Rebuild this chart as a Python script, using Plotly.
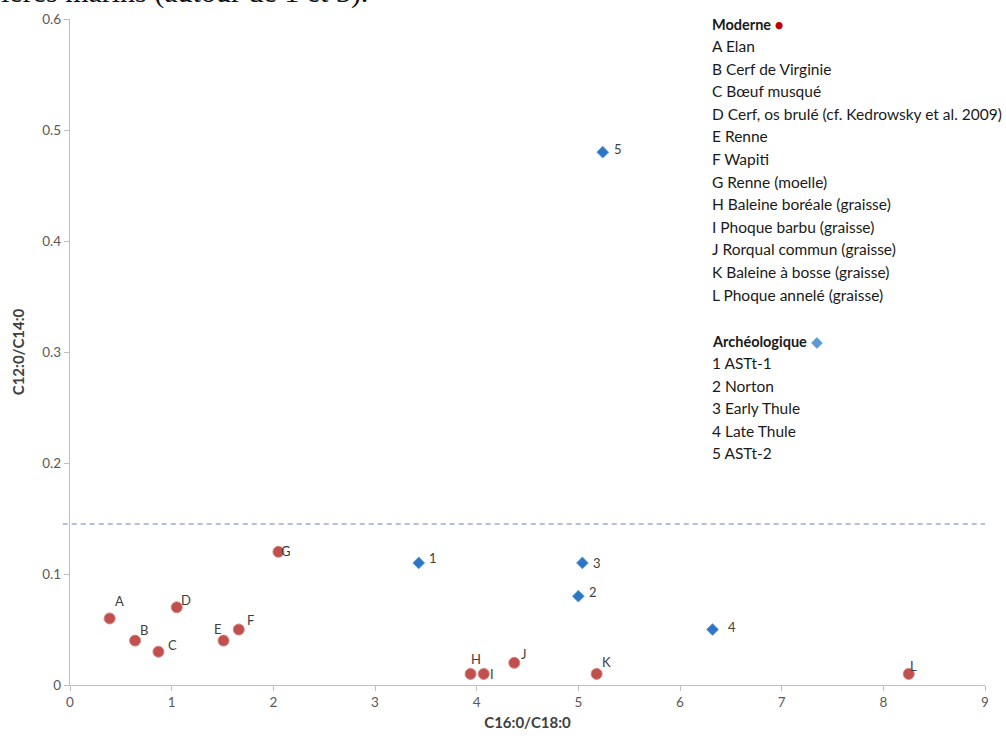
import plotly.graph_objects as go

# ---- data ----
mod_labels = ["A", "B", "C", "D", "E", "F", "G", "H", "I", "J", "K", "L"]
mod_x = [0.39, 0.64, 0.87, 1.05, 1.51, 1.66, 2.05, 3.94, 4.07, 4.37, 5.18, 8.25]
mod_y = [0.06, 0.04, 0.03, 0.07, 0.04, 0.05, 0.12, 0.01, 0.01, 0.02, 0.01, 0.01]

arc_labels = ["1", "2", "3", "4", "5"]
arc_x = [3.43, 5.00, 5.04, 6.32, 5.24]
arc_y = [0.11, 0.08, 0.11, 0.05, 0.48]

threshold_y = 0.145

mod_names = ["A Elan", "B Cerf de Virginie", "C Bœuf musqué",
             "D Cerf, os brulé (cf. Kedrowsky et al. 2009)", "E Renne", "F Wapiti",
             "G Renne (moelle)", "H Baleine boréale (graisse)", "I Phoque barbu (graisse)",
             "J Rorqual commun (graisse)", "K Baleine à bosse (graisse)",
             "L Phoque annelé (graisse)"]
arc_names = ["1 ASTt-1", "2 Norton", "3 Early Thule", "4 Late Thule", "5 ASTt-2"]

x_ticks = [0, 1, 2, 3, 4, 5, 6, 7, 8, 9]
y_ticks = [0, 0.1, 0.2, 0.3, 0.4, 0.5, 0.6]

# ---- label offsets (pixels) ----
mod_off = [(10, 17), (9, 11), (14, 7), (9, 7), (-6, 12), (12, 10), (8, 1), (5, 15),
           (8, 0), (10, 9), (10, 12), (5, 8)]
arc_off = [(14, 5), (15, 4), (15, 0), (19, 3), (15, 3)]

FONT = "Lato"
W, H = 1006, 742
L, R, T, B = 70, 21, 19, 57

fig = go.Figure()
fig.add_trace(go.Scatter(
    x=mod_x, y=mod_y, mode="markers", cliponaxis=False,
    marker=dict(symbol="circle", size=11, color="#c0504d",
                line=dict(color="#d9827f", width=1)),
    showlegend=False, hoverinfo="skip"))
fig.add_trace(go.Scatter(
    x=arc_x, y=arc_y, mode="markers", cliponaxis=False,
    marker=dict(symbol="diamond", size=9, color="#2e75c6",
                line=dict(color="#5b9bd5", width=1)),
    showlegend=False, hoverinfo="skip"))

anns = []
for lab, x, y, (dx, dy) in zip(mod_labels, mod_x, mod_y, mod_off):
    anns.append(dict(x=x, y=y, xref="x", yref="y", text=lab, showarrow=False,
                     xshift=dx, yshift=dy, font=dict(family=FONT, size=13, color="#404040")))
for lab, x, y, (dx, dy) in zip(arc_labels, arc_x, arc_y, arc_off):
    anns.append(dict(x=x, y=y, xref="x", yref="y", text=lab, showarrow=False,
                     xshift=dx, yshift=dy, font=dict(family=FONT, size=13, color="#404040")))

def px_to_paper(px, py):
    return (px - L) / (W - L - R), (H - B - py) / (H - T - B)

# legend text block
lx = 710
rows = [("<b>Moderne</b> <span style='color:#c00000'>●</span>", 24, 14.5)]
for i, n in enumerate(mod_names):
    rows.append((n, 46 + i * 22.6, 15.5))
rows.append(("<b>Archéologique</b> <span style='color:#5b9bd5'>◆</span>", 341, 14.5))
for i, n in enumerate(arc_names):
    rows.append((n, 363 + i * 22.6, 15.5))
for txt, py, fs in rows:
    xp, yp = px_to_paper(lx, py)
    anns.append(dict(x=xp, y=yp, xref="paper", yref="paper", text=txt, showarrow=False,
                     xanchor="left", yanchor="middle",
                     font=dict(family=FONT, size=fs, color="#1a1a1a")))

# clipped document text at top (cut off in the source image as well)
xp, yp = px_to_paper(-1, -8)
anns.append(dict(x=xp, y=yp, xref="paper", yref="paper",
                 text="ières marins (autour de 1 et 3).", showarrow=False,
                 xanchor="left", yanchor="middle",
                 font=dict(family="Liberation Serif", size=30, color="#111111")))

fig.add_shape(type="line", xref="paper", yref="y", x0=-0.008, x1=1.0,
              y0=threshold_y, y1=threshold_y,
              line=dict(color="#9aaad6", width=1.6, dash="5px,4px"))

fig.update_layout(
    width=W, height=H, margin=dict(l=L, r=R, t=T, b=B, autoexpand=False),
    paper_bgcolor="white", plot_bgcolor="white",
    annotations=anns, showlegend=False,
    font=dict(family=FONT),
    xaxis=dict(range=[0, 9], tickvals=x_ticks, showgrid=False, zeroline=False,
               showline=True, linecolor="#bfbfbf", linewidth=1.3,
               ticks="outside", ticklen=5, tickcolor="#bfbfbf",
               tickfont=dict(family=FONT, size=13.5, color="#595959"),
               title=dict(text="<b>C16:0/C18:0</b>", standoff=8,
                          font=dict(family=FONT, size=15, color="#404040"))),
    yaxis=dict(range=[0, 0.6], tickvals=y_ticks, showgrid=False, zeroline=False,
               showline=True, linecolor="#bfbfbf", linewidth=1.3,
               ticks="outside", ticklen=5, tickcolor="#bfbfbf",
               tickfont=dict(family=FONT, size=13.5, color="#595959"),
               title=dict(text="<b>C12:0/C14:0</b>", standoff=14,
                          font=dict(family=FONT, size=15, color="#404040"))),
)

fig.write_html("out.html", config={"displayModeBar": False},
               post_script="document.body.style.margin='0';document.body.style.overflow='hidden';")
